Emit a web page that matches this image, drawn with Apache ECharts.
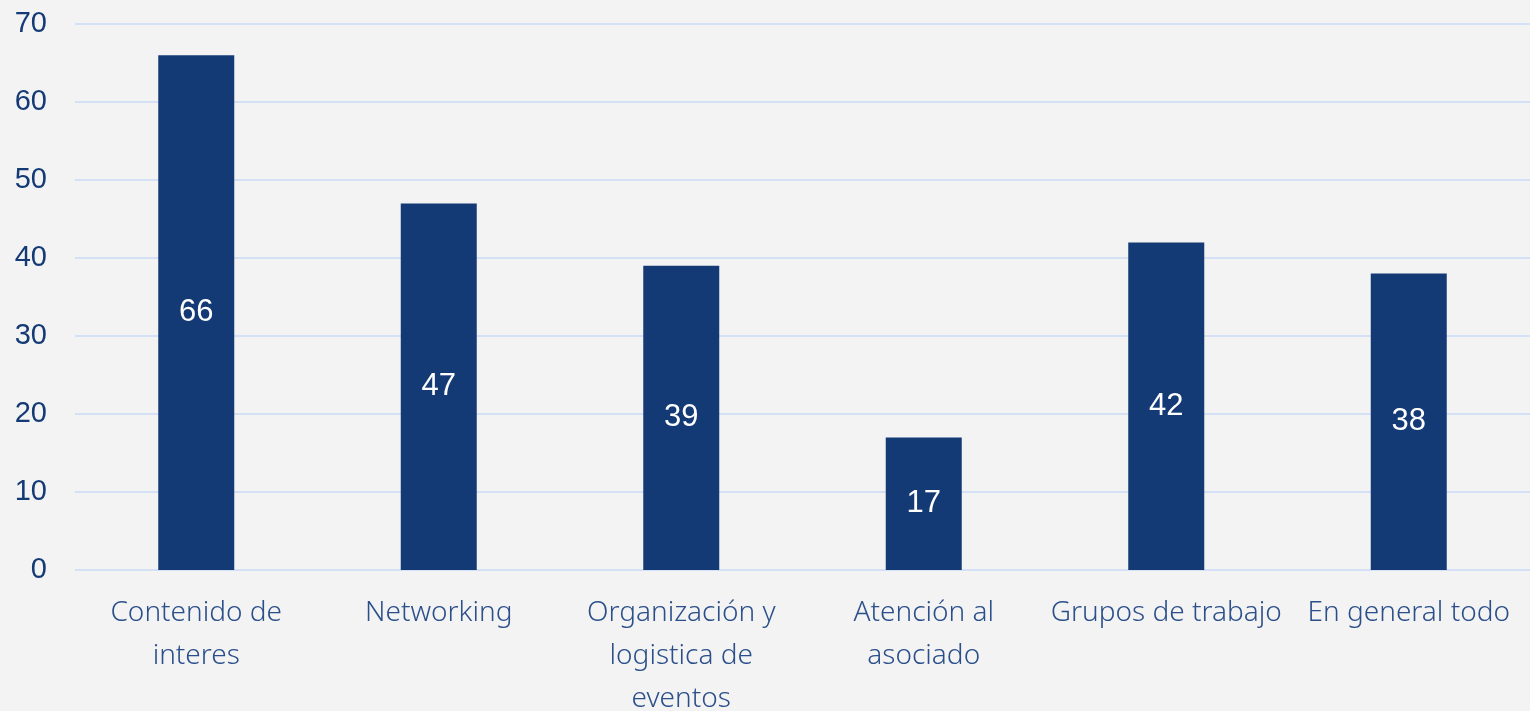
<!DOCTYPE html>
<html>
<head>
<meta charset="utf-8">
<script src="https://cdn.jsdelivr.net/npm/echarts@6/dist/echarts.min.js"></script>
<style>
  html, body { margin: 0; padding: 0; background: #f3f3f3; }
  #main { width: 1530px; height: 711px; }
</style>
</head>
<body>
<div id="main"></div>
<script>
var categories = ['Contenido de\ninteres', 'Networking', 'Organización y\nlogistica de\neventos', 'Atención al\nasociado', 'Grupos de trabajo', 'En general todo'];
var values = [66, 47, 39, 17, 42, 38];

var myChart = echarts.init(document.getElementById('main'));
var option = {
    backgroundColor: '#f3f3f3',
    animation: false,
    grid: {
        left: 75,
        right: 0,
        top: 24,
        bottom: 141,
        outerBoundsMode: 'none'
    },
    xAxis: {
        type: 'category',
        data: categories,
        axisLine: { show: false },
        axisTick: { show: false },
        axisLabel: {
            interval: 0,
            margin: 22,
            color: '#2b4f8a',
            fontFamily: 'Noto Sans',
            fontWeight: 300,
            fontSize: 28,
            lineHeight: 43
        }
    },
    yAxis: {
        type: 'value',
        min: 0,
        max: 70,
        interval: 10,
        axisLine: { show: false },
        axisTick: { show: false },
        splitLine: { lineStyle: { color: '#d3e0f5', width: 2 } },
        axisLabel: {
            margin: 28,
            color: '#143a76',
            fontFamily: 'Liberation Sans',
            fontSize: 29
        }
    },
    series: [{
        type: 'bar',
        data: values,
        barWidth: 76,
        itemStyle: { color: '#143a76' },
        label: {
            show: true,
            position: 'inside',
            color: '#ffffff',
            fontFamily: 'Liberation Sans',
            fontSize: 31
        }
    }]
};
myChart.setOption(option);
</script>
</body>
</html>
